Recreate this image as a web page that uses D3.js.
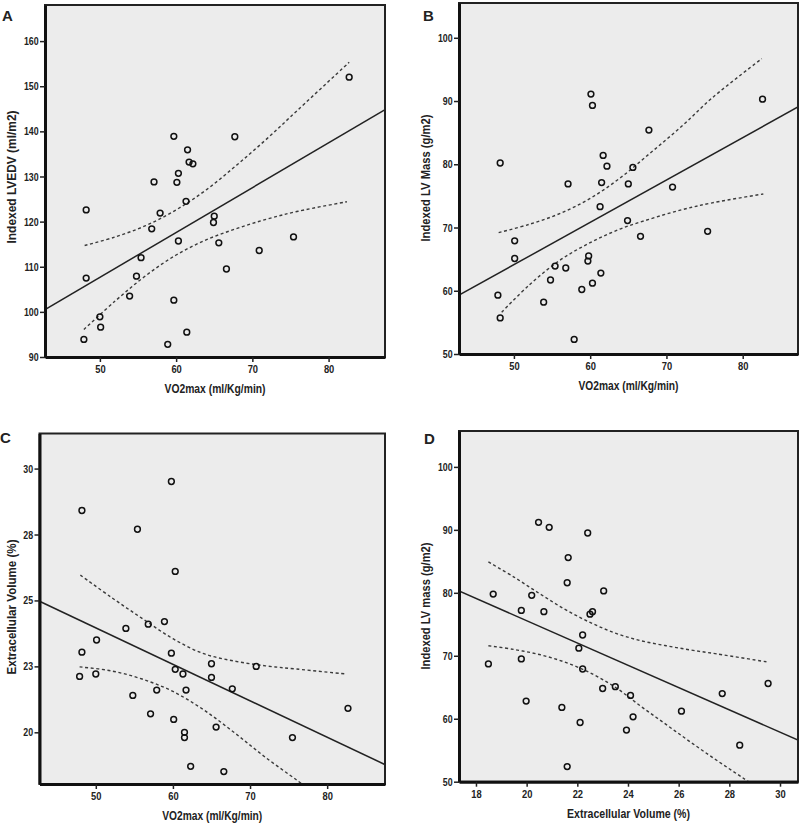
<!DOCTYPE html>
<html>
<head>
<meta charset="utf-8">
<script src="https://cdn.jsdelivr.net/npm/d3@7"></script>
<style>
  html, body { margin: 0; padding: 0; background: #ffffff; }
  svg { display: block; }
  text { font-family: "Liberation Sans", Arial, sans-serif; font-weight: bold; fill: #222; }
</style>
</head>
<body>
<svg id="chart" width="800" height="824"></svg>
<script>
// ---------- Panel A: VO2max vs Indexed LVEDV ----------
const aX = [82.7,59.7,67.7,61.5,61.7,62.2,60.3,57.1,60.1,61.3,48.2,57.9,65.0,64.9,56.8,60.3,65.6,75.4,70.9,55.4,54.8,48.2,66.6,53.9,59.7,50.0,50.1,47.9,61.4,58.9];
const aY = [152.0,138.9,138.8,135.9,133.2,132.8,130.7,128.8,128.7,124.5,122.6,121.9,121.2,119.8,118.4,115.7,115.3,116.6,113.6,112.0,107.9,107.5,109.5,103.5,102.6,98.9,96.6,93.9,95.5,92.8];
const aFitX = [42.8, 87.3];
const aFitY = [100.5, 144.7];
const aUpX = [48.0,52.0,56.0,60.0,64.0,68.0,72.0,76.0,82.7];
const aUpY = [114.7,116.6,119.1,122.6,127.1,132.6,138.5,144.8,155.3];
const aLoX = [47.9,52.0,56.0,60.0,64.0,68.0,72.0,76.0,82.4];
const aLoY = [96.1,102.4,108.0,112.6,116.0,118.5,120.6,122.3,124.4];
const aXTicks = [50,60,70,80];
const aYTicks = [90,100,110,120,130,140,150,160];

// ---------- Panel B: VO2max vs Indexed LV Mass ----------
const bX = [60.1,60.3,82.6,67.7,48.2,61.7,62.2,65.6,57.1,61.5,65.0,70.8,61.3,64.9,50.1,66.6,75.4,50.1,59.8,59.7,55.4,56.8,54.8,61.4,60.3,58.9,47.9,53.9,48.2,57.9];
const bY = [91.1,89.3,90.3,85.4,80.2,81.4,79.7,79.5,76.9,77.1,76.9,76.4,73.3,71.1,67.9,68.6,69.4,65.1,65.5,64.7,63.9,63.6,61.7,62.8,61.2,60.2,59.3,58.2,55.7,52.3];
const bFitX = [42.8, 87.3];
const bFitY = [59.3, 89.1];
const bUpX = [48.0,52.0,56.0,60.0,64.0,68.0,72.0,76.0,82.5];
const bUpY = [69.2,70.5,72.2,74.6,77.9,81.9,86.0,90.5,96.7];
const bLoX = [48.4,52.0,56.0,60.0,64.0,68.0,72.0,76.0,82.7];
const bLoY = [56.6,60.9,64.8,67.6,69.8,71.4,72.8,73.9,75.3];
const bXTicks = [50,60,70,80];
const bYTicks = [50,60,70,80,90,100];

// ---------- Panel C: VO2max vs Extracellular Volume ----------
const cX = [59.8,48.2,55.4,60.3,58.9,56.8,53.9,50.1,48.2,59.8,65.0,70.8,60.3,61.3,47.9,50.0,65.0,67.7,57.9,61.7,54.8,82.7,57.1,60.1,65.6,61.5,61.5,75.5,62.3,66.6];
const cY = [29.51,28.41,27.70,26.10,24.20,24.10,23.94,23.50,23.04,23.00,22.60,22.50,22.39,22.21,22.12,22.21,22.08,21.65,21.60,21.60,21.40,20.91,20.70,20.49,20.20,20.00,19.80,19.80,18.71,18.51];
const cFitX = [42.7, 87.4];
const cFitY = [24.97, 18.79];
const cUpX = [48.0,52.0,56.0,60.0,64.0,68.0,72.0,76.0,82.5];
const cUpY = [25.96,25.12,24.32,23.55,22.98,22.70,22.52,22.40,22.21];
const cLoX = [47.9,52.0,56.0,60.0,64.0,68.0,72.0,76.0,78.0];
const cLoY = [22.48,22.33,22.02,21.55,20.85,19.98,19.05,18.20,17.76];
const cXTicks = [50,60,70,80];
const cYTicks = [20,22.5,25,27.5,30];
const cYTickLabels = ["20","23","25","28","30"];

// ---------- Panel D: Extracellular Volume vs Indexed LV mass ----------
const dX = [20.47,20.89,22.41,21.64,21.60,18.68,20.20,23.04,19.79,20.68,22.60,22.50,22.21,22.06,18.49,19.79,22.21,23.00,23.50,24.10,29.53,27.72,19.98,21.39,26.11,24.20,22.11,23.94,28.41,21.60];
const dY = [91.2,90.4,89.5,85.6,81.6,79.8,79.6,80.3,77.2,77.0,77.0,76.6,73.3,71.2,68.7,69.5,67.9,64.8,65.1,63.7,65.6,64.0,62.8,61.8,61.2,60.3,59.4,58.2,55.8,52.4];
const dFitX = [17.33, 30.71];
const dFitY = [80.3, 56.6];
const dUpX = [18.49,19.5,20.5,21.5,22.5,23.5,24.5,25.5,26.5,27.5,29.53];
const dUpY = [84.9,82.5,79.9,77.4,75.3,73.6,72.4,71.6,70.9,70.3,69.0];
const dLoX = [18.49,19.5,20.5,21.5,22.5,23.5,24.5,25.5,26.5,27.5,28.5,29.5];
const dLoY = [71.6,71.0,70.2,69.0,67.3,65.0,62.0,59.1,56.2,53.4,50.7,48.0];
const dXTicks = [18,20,22,24,26,28,30];
const dYTicks = [50,60,70,80,90,100];

const panels = [
  { letter: "A", box: {l: 45, t: 5, r: 385, b: 357}, xDom: [42.8, 87.4], yDom: [90, 168],
    x: aX, y: aY, fitX: aFitX, fitY: aFitY, upX: aUpX, upY: aUpY, loX: aLoX, loY: aLoY,
    xTicks: aXTicks, yTicks: aYTicks, yLabels: null,
    xTitle: "VO2max (ml/Kg/min)", xTitleW: 101, yTitle: "Indexed LVEDV (ml/m2)", yTitleW: 133, yTitleC: 177,
    letterPos: [2, 20.5], yTitleX: 12 },
  { letter: "B", box: {l: 459, t: 3, r: 798, b: 354}, xDom: [42.8, 87.25], yDom: [50, 105.5],
    x: bX, y: bY, fitX: bFitX, fitY: bFitY, upX: bUpX, upY: bUpY, loX: bLoX, loY: bLoY,
    xTicks: bXTicks, yTicks: bYTicks, yLabels: null,
    xTitle: "VO2max (ml/Kg/min)", xTitleW: 100, yTitle: "Indexed LV Mass (g/m2)", yTitleW: 127, yTitleC: 178,
    letterPos: [423, 20.5], yTitleX: 426 },
  { letter: "C", box: {l: 39.5, t: 433.5, r: 385, b: 784}, xDom: [42.7, 87.5], yDom: [18.04, 31.33],
    x: cX, y: cY, fitX: cFitX, fitY: cFitY, upX: cUpX, upY: cUpY, loX: cLoX, loY: cLoY,
    xTicks: cXTicks, yTicks: cYTicks, yLabels: cYTickLabels,
    xTitle: "VO2max (ml/Kg/min)", xTitleW: 100, yTitle: "Extracellular Volume (%)", yTitleW: 135, yTitleC: 607,
    letterPos: [0, 443], yTitleX: 12 },
  { letter: "D", box: {l: 459, t: 431, r: 798, b: 781.7}, xDom: [17.33, 30.71], yDom: [50, 105.7],
    x: dX, y: dY, fitX: dFitX, fitY: dFitY, upX: dUpX, upY: dUpY, loX: dLoX, loY: dLoY,
    xTicks: dXTicks, yTicks: dYTicks, yLabels: null,
    xTitle: "Extracellular Volume (%)", xTitleW: 123, yTitle: "Indexed LV mass (g/m2)", yTitleW: 127, yTitleC: 606,
    letterPos: [424, 443.5], yTitleX: 426 }
];

const svg = d3.select("#chart");

panels.forEach((p, i) => {
  const B = p.box;
  const xs = d3.scaleLinear().domain(p.xDom).range([B.l, B.r]);
  const ys = d3.scaleLinear().domain(p.yDom).range([B.b, B.t]);
  const g = svg.append("g");
  const clipId = "clip" + i;
  g.append("clipPath").attr("id", clipId).append("rect")
    .attr("x", B.l).attr("y", B.t).attr("width", B.r - B.l).attr("height", B.b - B.t);

  g.append("rect").attr("x", B.l).attr("y", B.t).attr("width", B.r - B.l).attr("height", B.b - B.t)
    .attr("fill", "#ececec");

  const plot = g.append("g").attr("clip-path", `url(#${clipId})`);
  const line = d3.line().x(d => xs(d[0])).y(d => ys(d[1]));
  const curve = d3.line().x(d => xs(d[0])).y(d => ys(d[1])).curve(d3.curveCatmullRom.alpha(0.5));

  [[p.upX, p.upY], [p.loX, p.loY]].forEach(([cx, cy]) => {
    plot.append("path").datum(cx.map((v, k) => [v, cy[k]]))
      .attr("d", curve).attr("fill", "none").attr("stroke", "#3a3a3a")
      .attr("stroke-width", 1.4).attr("stroke-dasharray", "3,2.6");
  });
  plot.append("path").datum(p.fitX.map((v, k) => [v, p.fitY[k]]))
    .attr("d", line).attr("fill", "none").attr("stroke", "#222").attr("stroke-width", 1.5);

  plot.selectAll("circle").data(p.x.map((v, k) => [v, p.y[k]])).enter().append("circle")
    .attr("cx", d => xs(d[0])).attr("cy", d => ys(d[1])).attr("r", 2.9)
    .attr("fill", "none").attr("stroke", "#111").attr("stroke-width", 1.5);

  g.append("rect").attr("x", B.l).attr("y", B.t).attr("width", B.r - B.l).attr("height", B.b - B.t)
    .attr("fill", "none").attr("stroke", "#222").attr("stroke-width", 2);

  const xAxis = d3.axisBottom(xs).tickValues(p.xTicks).tickSize(5).tickSizeOuter(0).tickPadding(3);
  const yAxis = d3.axisLeft(ys).tickValues(p.yTicks).tickSize(5).tickSizeOuter(0).tickPadding(3)
    .tickFormat((d, k) => p.yLabels ? p.yLabels[k] : d3.format("d")(d));
  const gx = g.append("g").attr("transform", `translate(0,${B.b})`).call(xAxis);
  const gy = g.append("g").attr("transform", `translate(${B.l},0)`).call(yAxis);
  [gx, gy].forEach(a => {
    a.select(".domain").attr("stroke", "#111").attr("stroke-width", 3);
    a.selectAll(".tick line").attr("stroke", "#222").attr("stroke-width", 1.5);
    a.selectAll(".tick text").style("font-size", "11px").attr("fill", "#2a2a2a");
  });
  gx.selectAll(".tick text").attr("transform", "scale(0.85,1)");
  gy.selectAll(".tick text").attr("transform", "scale(0.8,1)");

  g.append("text").attr("x", (B.l + B.r) / 2).attr("y", B.b + 36).attr("text-anchor", "middle")
    .attr("textLength", p.xTitleW).attr("lengthAdjust", "spacingAndGlyphs")
    .style("font-size", "12px").text(p.xTitle);
  g.append("text").attr("transform", `translate(${p.yTitleX},${p.yTitleC}) rotate(-90)`)
    .attr("text-anchor", "middle").attr("dy", "0.35em")
    .attr("textLength", p.yTitleW).attr("lengthAdjust", "spacingAndGlyphs")
    .style("font-size", "12px").text(p.yTitle);
  g.append("text").attr("x", p.letterPos[0]).attr("y", p.letterPos[1])
    .style("font-size", "15px").attr("fill", "#000").text(p.letter);
});
</script>
</body>
</html>
